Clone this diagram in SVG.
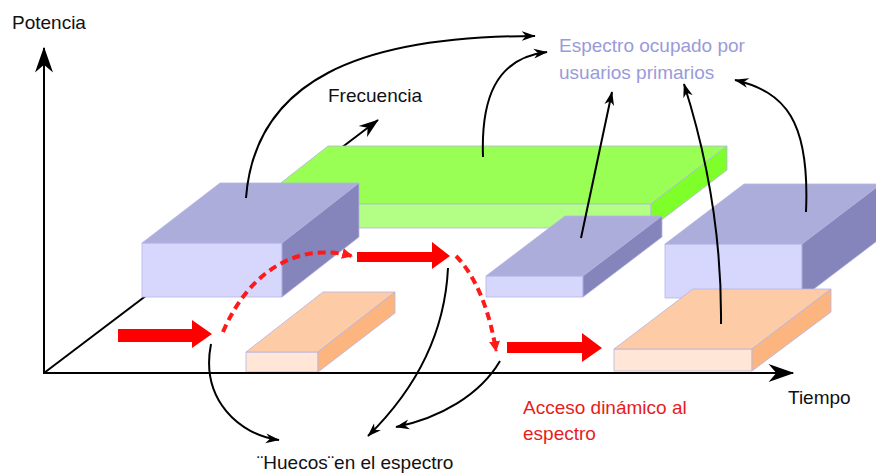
<svg xmlns="http://www.w3.org/2000/svg" width="876" height="475" viewBox="0 0 876 475">
<style>
text{font-family:"Liberation Sans",Arial,sans-serif;font-size:19px;fill:#111}
.blue{fill:#9A9ADA}
.red{fill:#E81C1C}
.lf{fill:#D7D7FD}.lt{fill:#ADADDB}.ls{fill:#8585BB}
.gf{fill:#B3FF85}.gt{fill:#99FF55}.gs{fill:#7FFF2A}
.of{fill:#FFE6D6}.ot{fill:#FDCBA6}.os{fill:#FDB57F}
.edge{stroke:#B4B4E4;stroke-width:0.8;stroke-linejoin:round}
.ax{fill:none;stroke:#000;stroke-width:2}
.bc{fill:none;stroke:#000;stroke-width:2;marker-end:url(#sm)}
.rd{fill:none;stroke:#FF1A1A;stroke-width:4;stroke-dasharray:8 5;marker-end:url(#rm)}
.ra{fill:#FF0000}
</style>
<defs>
<marker id="big" viewBox="0 0 20 14" refX="19" refY="7" markerUnits="userSpaceOnUse" markerWidth="30" markerHeight="18" orient="auto"><path d="M0,0 L20,7 L0,14 L6,7 Z" fill="#000"/></marker>
<marker id="mid" viewBox="0 0 20 14" refX="19" refY="7" markerUnits="userSpaceOnUse" markerWidth="20" markerHeight="15" orient="auto"><path d="M0,0 L20,7 L0,14 L6,7 Z" fill="#000"/></marker>
<marker id="sm" viewBox="0 0 20 14" refX="19" refY="7" markerUnits="userSpaceOnUse" markerWidth="14" markerHeight="11" orient="auto"><path d="M0,0 L20,7 L0,14 L6,7 Z" fill="#000"/></marker>
<marker id="rm" viewBox="0 0 10 10" refX="9" refY="5" markerUnits="userSpaceOnUse" markerWidth="11" markerHeight="11" orient="auto"><path d="M0,0 L10,5 L0,10 Z" fill="#FF1A1A"/></marker>
</defs>
<rect width="876" height="475" fill="#fff"/>

<g id="axes">
<line class="ax" x1="44" y1="373" x2="378" y2="120" marker-end="url(#mid)"/>
<line class="ax" x1="44" y1="374" x2="44" y2="48" marker-end="url(#big)"/>
</g>

<g id="green-block" class="edge">
<path class="gt" d="M328,146 L727,146 L651,204 L254,204 Z"/>
<path class="gf" d="M254,204 L651,204 L651,228 L254,228 Z"/>
<path class="gs" d="M651,204 L727,146 L727,170 L651,228 Z"/>
</g>
<g id="lav-block-1" class="edge">
<path class="lf" d="M142,243 L282,243 L282,297 L142,297 Z"/>
<path class="lt" d="M142,243 L220,183 L359,183 L282,243 Z"/>
<path class="ls" d="M282,243 L359,183 L359,237 L282,297 Z"/>
</g>
<g id="lav-block-2" class="edge">
<path class="lf" d="M486,276 L583,276 L583,297 L486,297 Z"/>
<path class="lt" d="M486,276 L565,216 L662,216 L583,276 Z"/>
<path class="ls" d="M583,276 L662,216 L662,237 L583,297 Z"/>
</g>
<g id="lav-block-3" class="edge">
<path class="lf" d="M665,244 L802,244 L802,298 L665,298 Z"/>
<path class="lt" d="M665,244 L744,184 L881,184 L802,244 Z"/>
<path class="ls" d="M802,244 L881,184 L881,238 L802,298 Z"/>
</g>
<g id="orange-block-1" class="edge">
<path class="of" d="M246,352 L318,352 L318,372 L246,372 Z"/>
<path class="ot" d="M246,352 L323,292 L395,292 L318,352 Z"/>
<path class="os" d="M318,352 L395,292 L395,313 L318,372 Z"/>
</g>
<g id="orange-block-2" class="edge">
<path class="of" d="M614,349 L752,349 L752,371 L614,371 Z"/>
<path class="ot" d="M614,349 L693,289 L831,289 L752,349 Z"/>
<path class="os" d="M752,349 L831,289 L831,312 L752,371 Z"/>
</g>

<g id="time-axis">
<line class="ax" x1="43" y1="373" x2="793" y2="373" marker-end="url(#big)"/>
</g>

<g id="connectors">
<path class="ra" d="M118,329 L192,329 L192,320 L212,334 L192,348 L192,342 L118,342 Z"/>
<path class="ra" d="M357,252 L432,252 L432,242 L450,256 L432,269 L432,262 L357,262 Z"/>
<path class="ra" d="M507,342 L582,342 L582,333 L602,348 L582,362 L582,353 L507,353 Z"/>
<path class="rd" d="M223,332 C245,280 290,240 352,256"/>
<path class="rd" d="M456,256 C476,276 490,312 496,351"/>
<path class="bc" d="M246,198 C255,80 360,36 535,36"/>
<path class="bc" d="M483,157 C481,100 495,58 547,52"/>
<path class="bc" d="M581,238 L612,92"/>
<path class="bc" d="M721,324 C722,230 705,150 684,84"/>
<path class="bc" d="M806,212 C810,120 785,92 735,80"/>
<path class="bc" d="M211,344 C200,400 240,435 279,440"/>
<path class="bc" d="M448,268 C445,330 420,385 368,436"/>
<path class="bc" d="M500,361 C480,395 440,418 396,427"/>
</g>

<g id="labels">
<text x="12" y="29">Potencia</text>
<text x="328" y="102">Frecuencia</text>
<text class="blue" x="559" y="52">Espectro ocupado por</text>
<text class="blue" x="559" y="79">usuarios primarios</text>
<text x="788" y="404">Tiempo</text>
<text class="red" x="523" y="414">Acceso dinámico al</text>
<text class="red" x="523" y="440">espectro</text>
<text x="257" y="469">¨Huecos¨en el espectro</text>
</g>
</svg>
